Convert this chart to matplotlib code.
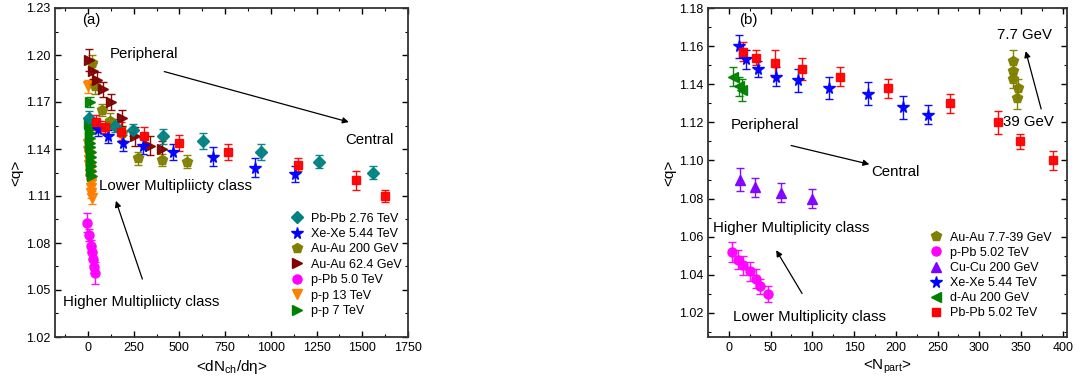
import numpy as np
import matplotlib
matplotlib.use("Agg")
import matplotlib.pyplot as plt
from matplotlib.lines import Line2D
from matplotlib.ticker import MultipleLocator, FormatStrFormatter

plt.rcParams['font.family'] = ['Liberation Sans', 'DejaVu Sans']
plt.rcParams['mathtext.fontset'] = 'custom'
plt.rcParams['mathtext.rm'] = 'Liberation Sans'
plt.rcParams['mathtext.it'] = 'Liberation Sans'

# ---- panel (a): <q> vs <dNch/deta> ----
pbpb276_x = [8, 148, 248, 412, 631, 945, 1263, 1560]
pbpb276_y = [1.160, 1.155, 1.152, 1.148, 1.145, 1.138, 1.132, 1.125]
pbpb276_e = [0.004, 0.004, 0.004, 0.005, 0.005, 0.005, 0.004, 0.004]

xexe_a_x = [57, 111, 193, 303, 464, 686, 914, 1132]
xexe_a_y = [1.153, 1.148, 1.144, 1.142, 1.138, 1.135, 1.128, 1.124]
xexe_a_e = [0.005, 0.004, 0.005, 0.005, 0.005, 0.006, 0.006, 0.005]

auau200_x = [21, 39, 75, 121, 185, 275, 407, 543]
auau200_y = [1.195, 1.180, 1.165, 1.158, 1.150, 1.134, 1.133, 1.132]
auau200_e = [0.005, 0.005, 0.004, 0.005, 0.004, 0.004, 0.004, 0.004]

auau62_x = [8, 29, 51, 84, 126, 185, 257, 339, 403]
auau62_y = [1.197, 1.190, 1.184, 1.178, 1.170, 1.160, 1.148, 1.142, 1.140]
auau62_e = [0.007, 0.005, 0.005, 0.005, 0.005, 0.005, 0.006, 0.006, 0.005]

pbpb502_a_x = [44, 93, 179, 308, 498, 764, 1150, 1466, 1624]
pbpb502_a_y = [1.157, 1.154, 1.151, 1.148, 1.144, 1.138, 1.130, 1.120, 1.110]
pbpb502_a_e = [0.005, 0.004, 0.006, 0.006, 0.005, 0.005, 0.004, 0.006, 0.004]

ppb50_x = [-3, 8, 15, 22, 26, 33, 40]
ppb50_y = [1.093, 1.085, 1.078, 1.074, 1.070, 1.065, 1.061]
ppb50_e = [0.006, 0.004, 0.004, 0.004, 0.004, 0.004, 0.007]

pp13_x = [2, 0, 3, 5, 6, 8, 9, 11, 13, 15, 17, 19, 22]
pp13_y = [1.180, 1.143, 1.139, 1.136, 1.133, 1.130, 1.127, 1.124, 1.121, 1.118, 1.115, 1.112, 1.109]
pp13_e = [0.004, 0.003, 0.003, 0.003, 0.003, 0.003, 0.003, 0.003, 0.003, 0.003, 0.003, 0.003, 0.004]

pp7_x = [14, 8, 10, 11, 12, 13, 14, 15, 16, 17, 18, 19, 20]
pp7_y = [1.170, 1.156, 1.153, 1.150, 1.147, 1.144, 1.141, 1.138, 1.135, 1.132, 1.129, 1.126, 1.123]
pp7_e = [0.003] * 13

# ---- panel (b): <q> vs <Npart> ----
auau_bes_x = [340, 340, 340, 346, 345]
auau_bes_y = [1.152, 1.147, 1.143, 1.138, 1.133]
auau_bes_e = [0.006, 0.005, 0.005, 0.005, 0.006]

ppb502_x = [4, 11, 17, 25, 32, 37, 47]
ppb502_y = [1.052, 1.048, 1.045, 1.042, 1.038, 1.034, 1.030]
ppb502_e = [0.005, 0.005, 0.005, 0.005, 0.005, 0.004, 0.004]

cucu_x = [13, 31, 62, 99]
cucu_y = [1.090, 1.086, 1.083, 1.080]
cucu_e = [0.006, 0.005, 0.005, 0.005]

xexe_b_x = [12, 21, 35, 56, 83, 120, 167, 209, 238]
xexe_b_y = [1.160, 1.153, 1.148, 1.144, 1.142, 1.138, 1.135, 1.128, 1.124]
xexe_b_e = [0.006, 0.005, 0.004, 0.005, 0.006, 0.006, 0.006, 0.006, 0.005]

dau_x = [5, 12, 16]
dau_y = [1.144, 1.139, 1.137]
dau_e = [0.005, 0.005, 0.006]

pbpb502_b_x = [17, 32, 55, 88, 133, 190, 265, 322, 349, 388]
pbpb502_b_y = [1.157, 1.154, 1.151, 1.148, 1.144, 1.138, 1.130, 1.120, 1.110, 1.100]
pbpb502_b_e = [0.005, 0.004, 0.007, 0.006, 0.005, 0.005, 0.005, 0.006, 0.004, 0.005]

teal, blue, olive, dred = '#008080', '#0000FF', '#808000', '#800000'
magenta, orange, green, red, violet = '#FF00FF', '#FF8000', '#008000', '#FF0000', '#8000FF'


def series(ax, x, y, e, color, marker, ms):
    ax.errorbar(x, y, yerr=e, fmt=marker, color=color, ms=ms, mec=color,
                ecolor=color, elinewidth=1.0, capsize=3, capthick=1.0, alpha=0.95)


def style(ax):
    ax.tick_params(which='both', direction='in', top=True, right=True, labelsize=9)
    ax.tick_params(which='major', length=4, width=1)
    ax.tick_params(which='minor', length=2.5, width=0.8)
    for s in ax.spines.values():
        s.set_linewidth(1.3)
        s.set_color('#333333')


fig = plt.figure(figsize=(10.8, 3.83), dpi=100)
ax1 = fig.add_axes([55 / 1080, 46 / 383, 353 / 1080, 329 / 383])
ax2 = fig.add_axes([708 / 1080, 46 / 383, 359 / 1080, 329 / 383])

# panel (a)
series(ax1, pp13_x, pp13_y, pp13_e, orange, 'v', 6.5)
series(ax1, pp7_x, pp7_y, pp7_e, green, '>', 6.5)
series(ax1, ppb50_x, ppb50_y, ppb50_e, magenta, 'o', 6.5)
series(ax1, auau200_x, auau200_y, auau200_e, olive, 'p', 7.5)
series(ax1, auau62_x, auau62_y, auau62_e, dred, '>', 7)
series(ax1, pbpb276_x, pbpb276_y, pbpb276_e, teal, 'D', 5.8)
series(ax1, xexe_a_x, xexe_a_y, xexe_a_e, blue, '*', 8.5)
series(ax1, pbpb502_a_x, pbpb502_a_y, pbpb502_a_e, red, 's', 6)

ax1.set_xlim(-180, 1750)
ax1.set_ylim(1.02, 1.23)
ax1.set_xticks(np.arange(0, 1751, 250))
ax1.set_yticks(np.arange(1.02, 1.2301, 0.03))
ax1.xaxis.set_minor_locator(MultipleLocator(125))
ax1.yaxis.set_minor_locator(MultipleLocator(0.015))
ax1.yaxis.set_major_formatter(FormatStrFormatter('%.2f'))
style(ax1)
ax1.set_xlabel(r'<dN$_{\mathrm{ch}}$/d$\eta$>', fontsize=11, labelpad=3)
ax1.set_ylabel('<q>', fontsize=11, labelpad=2)

tk = dict(transform=ax1.transAxes, fontsize=10.8, ha='left', va='center')
ax1.text(0.076, 0.963, '(a)', **tk)
ax1.text(0.156, 0.859, 'Peripheral', **tk)
ax1.text(0.821, 0.599, 'Central', **tk)
ax1.text(0.125, 0.459, 'Lower Multipliicty class', **tk)
ax1.text(0.022, 0.107, 'Higher Multipliicty class', **tk)
arr = dict(arrowstyle='-|>', color='black', lw=0.9, mutation_scale=9)
ax1.annotate('', xy=(0.840, 0.651), xytext=(0.302, 0.809),
             xycoords='axes fraction', arrowprops=arr)
ax1.annotate('', xy=(0.170, 0.422), xytext=(0.250, 0.168),
             xycoords='axes fraction', arrowprops=arr)

h1 = [Line2D([], [], ls='none', marker='D', color=teal, ms=5.8),
      Line2D([], [], ls='none', marker='*', color=blue, ms=8.5),
      Line2D([], [], ls='none', marker='p', color=olive, ms=7.5),
      Line2D([], [], ls='none', marker='>', color=dred, ms=7),
      Line2D([], [], ls='none', marker='o', color=magenta, ms=6.5),
      Line2D([], [], ls='none', marker='v', color=orange, ms=6.5),
      Line2D([], [], ls='none', marker='>', color=green, ms=6.5)]
l1 = ['Pb-Pb 2.76 TeV', 'Xe-Xe 5.44 TeV', 'Au-Au 200 GeV', 'Au-Au 62.4 GeV',
      'p-Pb 5.0 TeV', 'p-p 13 TeV', 'p-p 7 TeV']
ax1.legend(h1, l1, loc='upper left', bbox_to_anchor=(0.668, 0.378), frameon=False,
           fontsize=9, borderpad=0, borderaxespad=0, handlelength=1.0,
           handletextpad=0.6, labelspacing=0.27)

# panel (b)
series(ax2, auau_bes_x, auau_bes_y, auau_bes_e, olive, 'p', 7.5)
series(ax2, ppb502_x, ppb502_y, ppb502_e, magenta, 'o', 6.5)
series(ax2, cucu_x, cucu_y, cucu_e, violet, '^', 7)
series(ax2, xexe_b_x, xexe_b_y, xexe_b_e, blue, '*', 8.5)
series(ax2, dau_x, dau_y, dau_e, green, '<', 7)
series(ax2, pbpb502_b_x, pbpb502_b_y, pbpb502_b_e, red, 's', 6)

ax2.set_xlim(-25, 405)
ax2.set_ylim(1.0074, 1.18)
ax2.set_xticks(np.arange(0, 401, 50))
ax2.set_yticks(np.arange(1.02, 1.1801, 0.02))
ax2.xaxis.set_minor_locator(MultipleLocator(25))
ax2.yaxis.set_minor_locator(MultipleLocator(0.01))
ax2.yaxis.set_major_formatter(FormatStrFormatter('%.2f'))
style(ax2)
ax2.set_xlabel(r'<N$_{\mathrm{part}}$>', fontsize=11, labelpad=3)
ax2.set_ylabel('<q>', fontsize=11, labelpad=2)

tk2 = dict(transform=ax2.transAxes, fontsize=10.8, ha='left', va='center')
ax2.text(0.086, 0.963, '(b)', **tk2)
ax2.text(0.804, 0.918, '7.7 GeV', **tk2)
ax2.text(0.823, 0.654, '39 GeV', **tk2)
ax2.text(0.064, 0.644, 'Peripheral', **tk2)
ax2.text(0.454, 0.501, 'Central', **tk2)
ax2.text(0.014, 0.330, 'Higher Multiplicity class', **tk2)
ax2.text(0.069, 0.060, 'Lower Multiplicity class', **tk2)
ax2.annotate('', xy=(0.883, 0.877), xytext=(0.930, 0.685),
             xycoords='axes fraction', arrowprops=arr)
ax2.annotate('', xy=(0.457, 0.523), xytext=(0.224, 0.584),
             xycoords='axes fraction', arrowprops=arr)
ax2.annotate('', xy=(0.186, 0.271), xytext=(0.266, 0.125),
             xycoords='axes fraction', arrowprops=arr)

h2 = [Line2D([], [], ls='none', marker='p', color=olive, ms=7.5),
      Line2D([], [], ls='none', marker='o', color=magenta, ms=6.5),
      Line2D([], [], ls='none', marker='^', color=violet, ms=7),
      Line2D([], [], ls='none', marker='*', color=blue, ms=8.5),
      Line2D([], [], ls='none', marker='<', color=green, ms=7),
      Line2D([], [], ls='none', marker='s', color=red, ms=6)]
l2 = ['Au-Au 7.7-39 GeV', 'p-Pb 5.02 TeV', 'Cu-Cu 200 GeV', 'Xe-Xe 5.44 TeV',
      'd-Au 200 GeV', 'Pb-Pb 5.02 TeV']
ax2.legend(h2, l2, loc='upper left', bbox_to_anchor=(0.619, 0.32), frameon=False,
           fontsize=9, borderpad=0, borderaxespad=0, handlelength=1.0,
           handletextpad=0.6, labelspacing=0.25)

fig.savefig('out.png', dpi=100)
